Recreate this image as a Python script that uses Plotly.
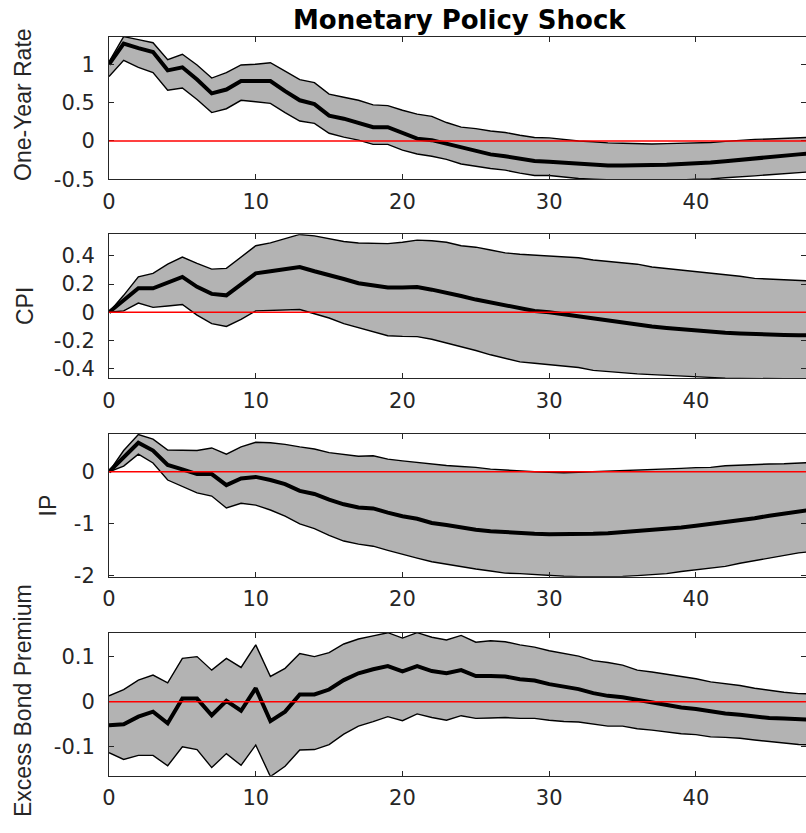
import plotly.graph_objects as go

W, H = 806, 833

horizon = list(range(49))

rate_median = [1.0, 1.27, 1.21, 1.16, 0.92, 0.96, 0.80, 0.62, 0.67, 0.78,
               0.78, 0.78, 0.65, 0.53, 0.48, 0.33, 0.29, 0.24, 0.18, 0.18,
               0.10, 0.03, 0.01, -0.035, -0.09, -0.13, -0.175, -0.20, -0.23, -0.26,
               -0.27, -0.285, -0.30, -0.31, -0.32, -0.32, -0.32, -0.32, -0.31, -0.30,
               -0.295, -0.28, -0.265, -0.245, -0.23, -0.21, -0.19, -0.175, -0.16]
rate_upper = [1.03, 1.36, 1.32, 1.28, 1.06, 1.13, 0.99, 0.82, 0.89, 0.99,
              1.00, 1.02, 0.91, 0.80, 0.76, 0.61, 0.57, 0.53, 0.47, 0.46,
              0.40, 0.35, 0.32, 0.24, 0.18, 0.16, 0.13, 0.11, 0.075, 0.045,
              0.04, 0.02, 0.0, -0.01, -0.025, -0.03, -0.035, -0.04, -0.035, -0.03,
              -0.025, -0.02, -0.005, 0.01, 0.02, 0.025, 0.035, 0.045, 0.05]
rate_lower = [0.84, 1.05, 0.96, 0.89, 0.66, 0.69, 0.54, 0.37, 0.42, 0.53,
              0.51, 0.49, 0.37, 0.26, 0.23, 0.10, 0.05, 0.01, -0.045, -0.045,
              -0.12, -0.17, -0.20, -0.24, -0.30, -0.33, -0.36, -0.38, -0.42, -0.45,
              -0.45, -0.47, -0.49, -0.50, -0.51, -0.52, -0.52, -0.52, -0.52, -0.51,
              -0.50, -0.495, -0.48, -0.47, -0.455, -0.44, -0.425, -0.41, -0.40]

cpi_median = [0.0, 0.087, 0.17, 0.17, 0.21, 0.25, 0.18, 0.13, 0.12, 0.20,
              0.275, 0.29, 0.305, 0.32, 0.29, 0.265, 0.235, 0.205, 0.19, 0.175,
              0.175, 0.178, 0.16, 0.14, 0.115, 0.09, 0.07, 0.045, 0.025, 0.01,
              0.0, -0.015, -0.025, -0.04, -0.06, -0.075, -0.085, -0.10, -0.11, -0.12,
              -0.13, -0.14, -0.145, -0.15, -0.155, -0.16, -0.16, -0.162, -0.163]
cpi_upper = [0.0, 0.12, 0.25, 0.275, 0.34, 0.39, 0.345, 0.305, 0.31, 0.39,
             0.47, 0.49, 0.52, 0.55, 0.54, 0.52, 0.50, 0.49, 0.485, 0.485,
             0.495, 0.51, 0.505, 0.495, 0.47, 0.46, 0.44, 0.42, 0.41, 0.405,
             0.40, 0.39, 0.385, 0.37, 0.36, 0.35, 0.34, 0.32, 0.31, 0.295,
             0.285, 0.275, 0.265, 0.255, 0.24, 0.235, 0.225, 0.225, 0.22]
cpi_lower = [0.0, 0.01, 0.065, 0.035, 0.045, 0.055, -0.02, -0.08, -0.10, -0.05,
             0.01, 0.015, 0.015, 0.02, -0.01, -0.04, -0.08, -0.11, -0.14, -0.165,
             -0.17, -0.172, -0.19, -0.215, -0.24, -0.27, -0.30, -0.325, -0.35, -0.36,
             -0.37, -0.375, -0.39, -0.41, -0.42, -0.43, -0.435, -0.44, -0.445, -0.45,
             -0.46, -0.462, -0.465, -0.467, -0.468, -0.47, -0.47, -0.47, -0.47]

ip_median = [0.0, 0.29, 0.56, 0.41, 0.13, 0.045, -0.045, -0.045, -0.26, -0.13,
             -0.10, -0.16, -0.24, -0.37, -0.43, -0.54, -0.63, -0.69, -0.71, -0.79,
             -0.86, -0.91, -0.99, -1.03, -1.08, -1.12, -1.15, -1.17, -1.19, -1.20,
             -1.21, -1.21, -1.21, -1.20, -1.19, -1.17, -1.15, -1.13, -1.10, -1.08,
             -1.045, -1.01, -0.97, -0.935, -0.90, -0.85, -0.81, -0.76, -0.73]
ip_upper = [0.0, 0.41, 0.72, 0.63, 0.42, 0.41, 0.41, 0.46, 0.34, 0.48,
            0.57, 0.56, 0.53, 0.48, 0.44, 0.37, 0.33, 0.30, 0.31, 0.245,
            0.21, 0.18, 0.14, 0.12, 0.10, 0.085, 0.05, 0.03, 0.02, 0.0,
            -0.01, -0.02, -0.01, 0.0, 0.01, 0.02, 0.03, 0.04, 0.045, 0.065,
            0.08, 0.085, 0.115, 0.13, 0.135, 0.15, 0.155, 0.175, 0.18]
ip_lower = [0.0, 0.11, 0.34, 0.17, -0.16, -0.29, -0.41, -0.47, -0.70, -0.61,
            -0.645, -0.74, -0.86, -1.01, -1.10, -1.23, -1.34, -1.40, -1.44, -1.52,
            -1.60, -1.67, -1.74, -1.79, -1.84, -1.88, -1.92, -1.96, -1.97, -1.99,
            -2.01, -2.02, -2.03, -2.03, -2.03, -2.025, -2.01, -1.99, -1.97, -1.93,
            -1.90, -1.87, -1.83, -1.77, -1.72, -1.68, -1.63, -1.57, -1.54]

ebp_median = [-0.052, -0.05, -0.033, -0.022, -0.048, 0.007, 0.007, -0.03, 0.002, -0.02,
              0.03, -0.043, -0.022, 0.016, 0.016, 0.027, 0.048, 0.063, 0.072, 0.079,
              0.067, 0.079, 0.068, 0.063, 0.07, 0.057, 0.057, 0.056, 0.05, 0.047,
              0.039, 0.033, 0.028, 0.019, 0.013, 0.01, 0.004, -0.0015, -0.006, -0.013,
              -0.016, -0.022, -0.026, -0.029, -0.033, -0.036, -0.037, -0.039, -0.04]
ebp_upper = [0.013, 0.027, 0.048, 0.059, 0.042, 0.096, 0.10, 0.07, 0.096, 0.076,
             0.126, 0.056, 0.074, 0.107, 0.10, 0.109, 0.128, 0.139, 0.146, 0.153,
             0.141, 0.153, 0.143, 0.137, 0.147, 0.132, 0.135, 0.133, 0.126, 0.121,
             0.113, 0.107, 0.101, 0.091, 0.087, 0.081, 0.07, 0.066, 0.061, 0.056,
             0.051, 0.044, 0.04, 0.036, 0.03, 0.025, 0.021, 0.018, 0.017]
ebp_lower = [-0.113, -0.128, -0.119, -0.119, -0.142, -0.10, -0.106, -0.146, -0.115, -0.141,
             -0.096, -0.166, -0.143, -0.107, -0.106, -0.095, -0.072, -0.054, -0.044, -0.033,
             -0.042, -0.027, -0.035, -0.041, -0.031, -0.037, -0.036, -0.035, -0.037, -0.037,
             -0.041, -0.044, -0.045, -0.05, -0.054, -0.054, -0.06, -0.063, -0.067, -0.071,
             -0.073, -0.078, -0.079, -0.081, -0.085, -0.088, -0.091, -0.095, -0.096]

x_tick_vals = [0, 10, 20, 30, 40]
x_tick_text = ["0", "10", "20", "30", "40"]

panel_labels = ["One-Year Rate", "CPI", "IP", "Excess Bond Premium"]
title_text = "Monetary Policy Shock"

panels = [
    dict(label=panel_labels[0], med=rate_median, lo=rate_lower, hi=rate_upper,
         yr=[-0.5, 1.355], tv=[-0.5, 0, 0.5, 1], tt=["-0.5", "0", "0.5", "1"],
         top=37, bot=179.3, lx=23, ly=105),
    dict(label=panel_labels[1], med=cpi_median, lo=cpi_lower, hi=cpi_upper,
         yr=[-0.466, 0.551], tv=[-0.4, -0.2, 0, 0.2, 0.4], tt=["-0.4", "-0.2", "0", "0.2", "0.4"],
         top=234.3, bot=378.3, lx=25, ly=306),
    dict(label=panel_labels[2], med=ip_median, lo=ip_lower, hi=ip_upper,
         yr=[-2.03, 0.73], tv=[-2, -1, 0], tt=["-2", "-1", "0"],
         top=434, bot=576.7, lx=47.5, ly=506),
    dict(label=panel_labels[3], med=ebp_median, lo=ebp_lower, hi=ebp_upper,
         yr=[-0.164, 0.153], tv=[-0.1, 0, 0.1], tt=["-0.1", "0", "0.1"],
         top=632.7, bot=775.7, lx=23, ly=701),
]

AX = "#262626"
tick_font = dict(family="DejaVu Sans", size=21, color=AX)
fig = go.Figure()
layout = dict(template="none", width=W, height=H, margin=dict(l=0, r=0, t=0, b=0, pad=0, autoexpand=False),
              plot_bgcolor="white", paper_bgcolor="white", showlegend=False)
annotations = []
shapes = []
left = 109 / W
for i, p in enumerate(panels):
    n = "" if i == 0 else str(i + 1)
    xa, ya = "x" + n, "y" + n
    common = dict(xaxis=xa, yaxis=ya, showlegend=False, hoverinfo="skip", mode="lines")
    fig.add_trace(go.Scatter(x=horizon, y=p["lo"], line=dict(width=0, color="#b3b3b3"), **common))
    fig.add_trace(go.Scatter(x=horizon, y=p["hi"], line=dict(width=0, color="#b3b3b3"),
                             fill="tonexty", fillcolor="#b3b3b3", **common))
    fig.add_trace(go.Scatter(x=horizon, y=p["lo"], line=dict(width=1.4, color="black"), **common))
    fig.add_trace(go.Scatter(x=horizon, y=p["hi"], line=dict(width=1.4, color="black"), **common))
    fig.add_trace(go.Scatter(x=horizon, y=p["med"], line=dict(width=4, color="black"), **common))
    shapes.append(dict(type="line", xref=xa + " domain", yref=ya, x0=0, x1=1, y0=0, y1=0,
                       line=dict(color="#ff0000", width=1.6), layer="above"))
    layout["xaxis" + n] = dict(domain=[left, 1], range=[0, 47.5], anchor=ya, automargin=False,
                               tickvals=x_tick_vals, ticktext=x_tick_text,
                               ticks="inside", ticklen=5, tickcolor=AX, showline=True,
                               linecolor=AX, linewidth=1, mirror="ticks", showgrid=False,
                               zeroline=False, tickfont=tick_font, ticklabelstandoff=3)
    layout["yaxis" + n] = dict(domain=[1 - p["bot"] / H, 1 - p["top"] / H], range=p["yr"],
                               anchor=xa, automargin=False, tickvals=p["tv"], ticktext=p["tt"],
                               ticks="inside", ticklen=5, tickcolor=AX, showline=True,
                               linecolor=AX, linewidth=1, mirror="ticks", showgrid=False,
                               zeroline=False, tickfont=tick_font, ticklabelstandoff=9)
    annotations.append(dict(text=p["label"], xref="paper", yref="paper",
                            x=p["lx"] / W, y=1 - p["ly"] / H, xanchor="center", yanchor="middle",
                            textangle=-90, showarrow=False,
                            font=dict(family="Liberation Sans", size=23, color=AX)))

annotations.append(dict(text="<b>" + title_text + "</b>", xref="paper", yref="paper",
                        x=460 / W, y=1 - 20 / H, xanchor="center", yanchor="middle",
                        showarrow=False, font=dict(family="DejaVu Sans", size=26, color="black")))
layout["annotations"] = annotations
layout["shapes"] = shapes
fig.update_layout(**layout)
fig.write_html("out.html")
